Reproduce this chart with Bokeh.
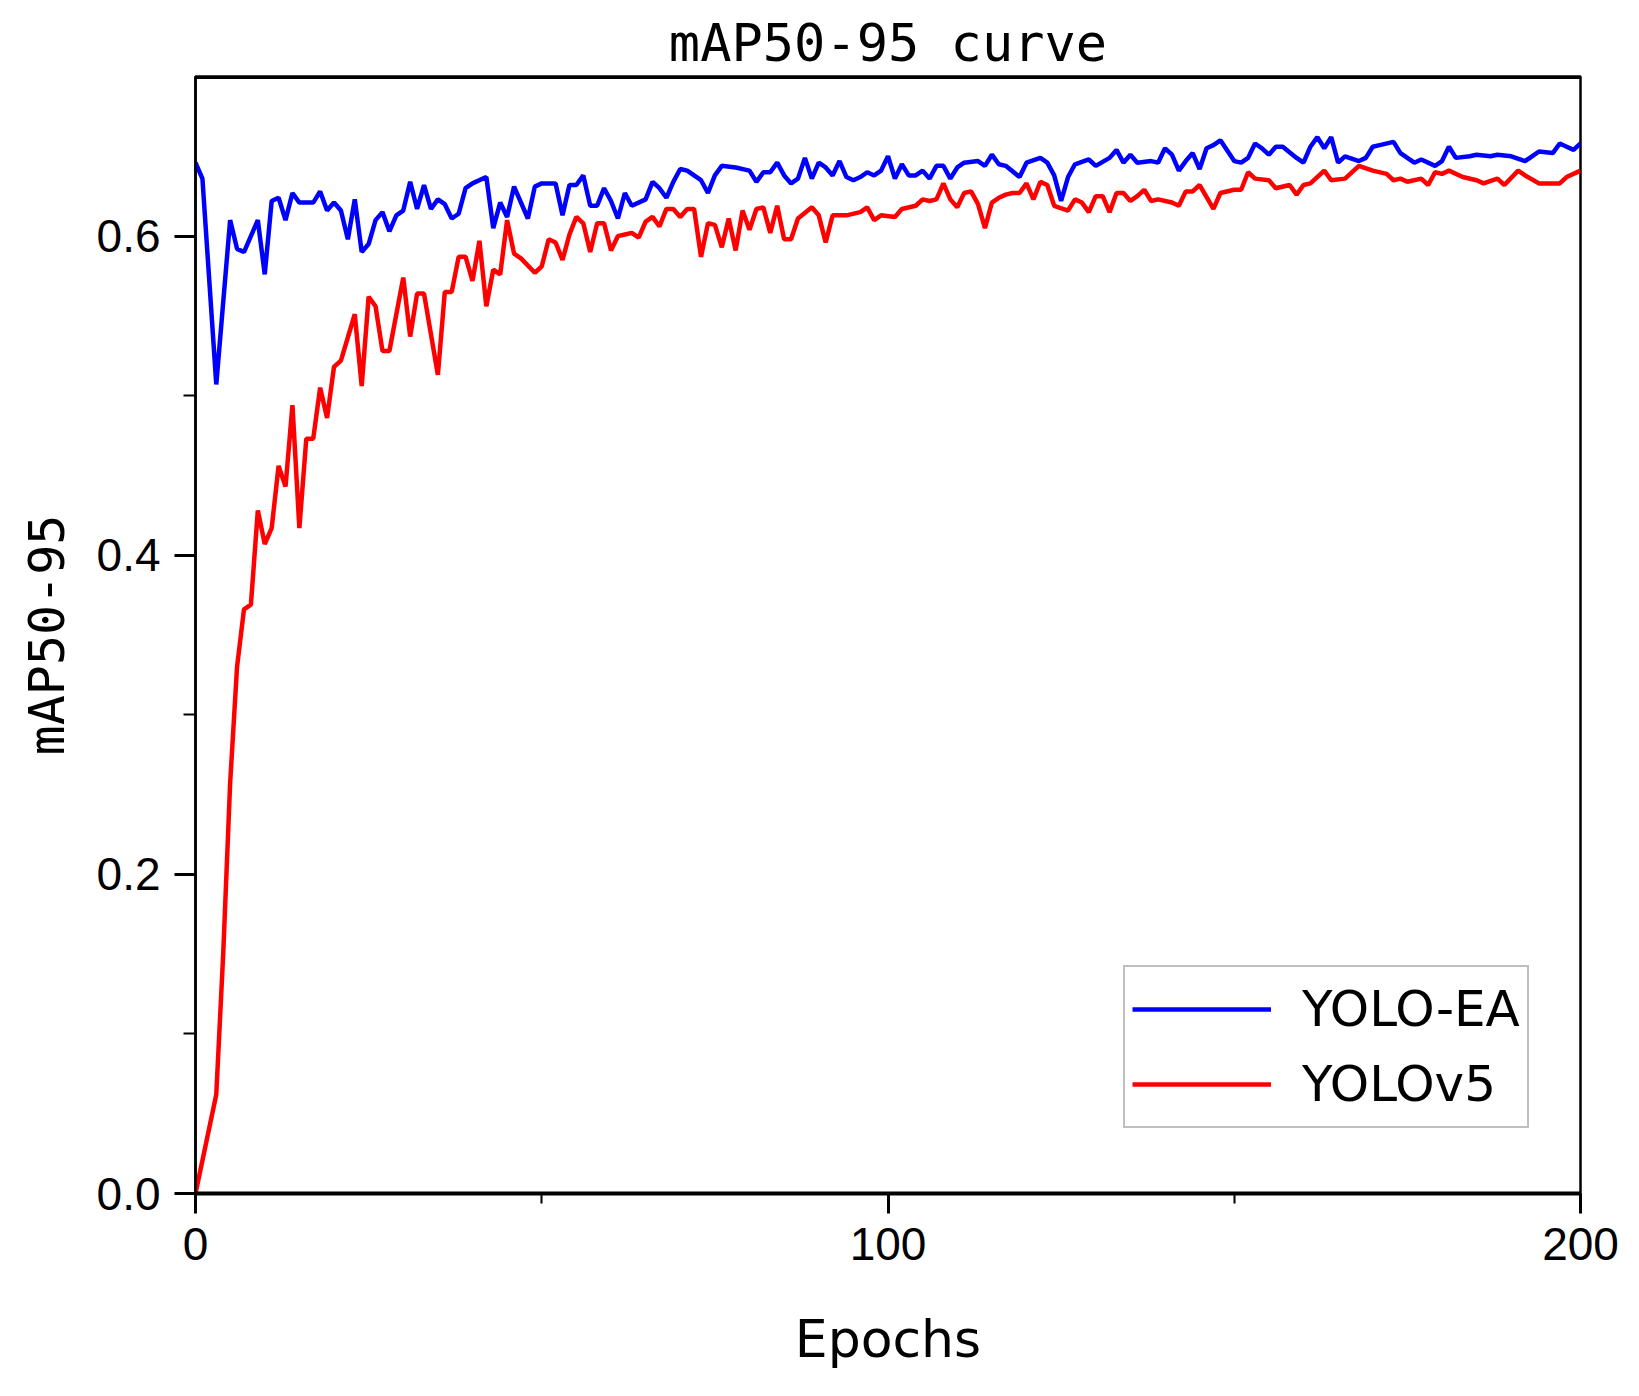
from bokeh.plotting import figure
from bokeh.models import (FixedTicker, PrintfTickFormatter, Legend, LegendItem,
                          Span, Range1d)
from bokeh.embed import file_html
from bokeh.resources import INLINE

# ---------------- data ----------------
blue_epochs = [0, 1, 3, 5, 6, 7, 9, 10, 11, 12,
               13, 14, 15, 17, 18, 19, 20, 21, 22, 23,
               24, 25, 26, 27, 28, 29, 30, 31, 32, 33,
               34, 35, 36, 37, 38, 39, 40, 42, 43, 44,
               45, 46, 48, 49, 50, 52, 53, 54, 55, 56,
               57, 58, 59, 60, 61, 62, 63, 65, 66, 67,
               68, 69, 70, 71, 73, 74, 75, 76, 78, 80,
               81, 82, 83, 84, 85, 86, 87, 88, 89, 90,
               91, 92, 93, 94, 95, 96, 97, 98, 99, 100,
               101, 102, 103, 104, 105, 106, 107, 108, 109, 110,
               111, 113, 114, 115, 116, 117, 119, 120, 122, 123,
               124, 125, 126, 127, 129, 130, 132, 133, 134, 135,
               136, 138, 139, 140, 141, 142, 143, 144, 145, 146,
               147, 148, 150, 151, 152, 153, 154, 155, 156, 157,
               159, 160, 161, 162, 163, 164, 165, 166, 168, 169,
               170, 171, 173, 174, 175, 176, 177, 179, 180, 181,
               182, 184, 185, 187, 188, 190, 192, 193, 194, 196,
               197, 198, 199, 200]
blue_vals = [0.646, 0.636, 0.507, 0.610, 0.592, 0.590, 0.610, 0.576, 0.622, 0.624,
             0.610, 0.627, 0.621, 0.621, 0.628, 0.616, 0.621, 0.616, 0.598, 0.623,
             0.590, 0.595, 0.610, 0.615, 0.603, 0.613, 0.616, 0.634, 0.617, 0.632,
             0.617, 0.623, 0.620, 0.611, 0.614, 0.630, 0.633, 0.637, 0.605, 0.621,
             0.612, 0.631, 0.611, 0.631, 0.633, 0.633, 0.613, 0.632, 0.632, 0.638,
             0.619, 0.619, 0.630, 0.622, 0.611, 0.627, 0.619, 0.623, 0.634, 0.630,
             0.624, 0.634, 0.642, 0.641, 0.635, 0.627, 0.638, 0.644, 0.643, 0.641,
             0.634, 0.640, 0.640, 0.646, 0.638, 0.633, 0.636, 0.649, 0.636, 0.646,
             0.643, 0.638, 0.647, 0.637, 0.635, 0.637, 0.640, 0.638, 0.641, 0.650,
             0.636, 0.645, 0.638, 0.638, 0.641, 0.636, 0.644, 0.644, 0.636, 0.643,
             0.646, 0.647, 0.644, 0.651, 0.645, 0.644, 0.637, 0.646, 0.649, 0.646,
             0.638, 0.622, 0.637, 0.645, 0.648, 0.644, 0.649, 0.654, 0.646, 0.651,
             0.646, 0.647, 0.646, 0.655, 0.651, 0.641, 0.647, 0.652, 0.642, 0.655,
             0.657, 0.660, 0.647, 0.646, 0.649, 0.658, 0.655, 0.651, 0.656, 0.656,
             0.649, 0.646, 0.656, 0.662, 0.655, 0.662, 0.646, 0.650, 0.647, 0.649,
             0.656, 0.657, 0.659, 0.652, 0.649, 0.646, 0.648, 0.644, 0.647, 0.656,
             0.649, 0.650, 0.651, 0.650, 0.651, 0.650, 0.647, 0.650, 0.653, 0.652,
             0.658, 0.656, 0.654, 0.658]

red_epochs = [0, 3, 4, 5, 6, 7, 8, 9, 10, 11,
              12, 13, 14, 15, 16, 17, 18, 19, 20, 21,
              23, 24, 25, 26, 27, 28, 30, 31, 32, 33,
              35, 36, 37, 38, 39, 40, 41, 42, 43, 44,
              45, 46, 47, 49, 50, 51, 52, 53, 54, 55,
              56, 57, 58, 59, 60, 61, 62, 63, 64, 65,
              66, 67, 68, 69, 70, 71, 72, 73, 74, 75,
              76, 77, 78, 79, 80, 81, 82, 83, 84, 85,
              86, 87, 89, 90, 91, 92, 94, 96, 97, 98,
              99, 101, 102, 104, 105, 106, 107, 108, 109, 110,
              111, 112, 113, 114, 115, 116, 117, 118, 119, 120,
              121, 122, 123, 124, 126, 127, 128, 129, 130, 131,
              132, 133, 134, 135, 136, 137, 138, 139, 141, 142,
              143, 144, 145, 147, 148, 150, 151, 152, 153, 155,
              156, 158, 159, 160, 161, 163, 164, 166, 168, 170,
              172, 173, 174, 175, 177, 178, 179, 180, 181, 183,
              185, 186, 188, 189, 191, 192, 194, 195, 197, 198,
              200]
red_vals = [0.000, 0.062, 0.150, 0.257, 0.330, 0.366, 0.369, 0.428, 0.407, 0.417,
            0.456, 0.443, 0.494, 0.417, 0.473, 0.473, 0.505, 0.486, 0.518, 0.522,
            0.551, 0.506, 0.562, 0.556, 0.528, 0.528, 0.574, 0.537, 0.564, 0.564,
            0.513, 0.565, 0.565, 0.587, 0.587, 0.572, 0.597, 0.556, 0.579, 0.576,
            0.610, 0.589, 0.586, 0.577, 0.581, 0.598, 0.596, 0.585, 0.601, 0.612,
            0.608, 0.590, 0.608, 0.608, 0.591, 0.600, 0.601, 0.602, 0.599, 0.609,
            0.612, 0.606, 0.617, 0.617, 0.612, 0.617, 0.617, 0.587, 0.608, 0.607,
            0.593, 0.611, 0.591, 0.616, 0.604, 0.617, 0.618, 0.602, 0.619, 0.598,
            0.598, 0.611, 0.618, 0.613, 0.596, 0.613, 0.613, 0.615, 0.618, 0.610,
            0.613, 0.612, 0.617, 0.619, 0.623, 0.622, 0.623, 0.633, 0.623, 0.618,
            0.627, 0.628, 0.620, 0.605, 0.621, 0.624, 0.626, 0.627, 0.627, 0.633,
            0.623, 0.634, 0.632, 0.619, 0.616, 0.623, 0.621, 0.615, 0.625, 0.625,
            0.615, 0.627, 0.627, 0.622, 0.625, 0.629, 0.622, 0.623, 0.621, 0.619,
            0.628, 0.628, 0.632, 0.617, 0.627, 0.629, 0.629, 0.640, 0.636, 0.635,
            0.630, 0.632, 0.626, 0.632, 0.633, 0.641, 0.635, 0.636, 0.644, 0.641,
            0.639, 0.635, 0.636, 0.634, 0.636, 0.632, 0.640, 0.639, 0.641, 0.637,
            0.635, 0.633, 0.636, 0.632, 0.641, 0.638, 0.633, 0.633, 0.633, 0.637,
            0.641]

series_labels = ["YOLO-EA", "YOLOv5"]
x_ticks = [0, 100, 200]
x_minor = [50, 150]
y_ticks = [0.0, 0.2, 0.4, 0.6]
y_minor = [0.1, 0.3, 0.5]

# ---------------- figure ----------------
p = figure(frame_width=1385, frame_height=1117,
           x_range=Range1d(0, 200), y_range=Range1d(0, 0.7),
           output_backend="svg", toolbar_location=None,
           min_border_left=195, min_border_top=76,
           min_border_right=45, min_border_bottom=190,
           background_fill_color="white", border_fill_color="white")

p.title.text = "mAP50-95 curve"
p.title.align = "center"
p.title.text_font = "DejaVu Sans Mono"
p.title.text_font_size = "52px"
p.title.text_font_style = "normal"
p.title.text_color = "black"
p.title.standoff = 7

p.xgrid.visible = False
p.ygrid.visible = False
p.outline_line_color = "black"
p.outline_line_width = 2.5
p.outline_line_alpha = 1.0

# x axis
xa = p.xaxis[0]
xa.ticker = FixedTicker(ticks=x_ticks, minor_ticks=x_minor)
xa.axis_line_width = 4
xa.axis_line_color = "black"
xa.major_tick_in = 0
xa.major_tick_out = 20
xa.minor_tick_in = 0
xa.minor_tick_out = 10
xa.major_tick_line_width = 3
xa.minor_tick_line_width = 2
xa.major_label_text_font = "Liberation Sans"
xa.major_label_text_font_size = "46px"
xa.major_label_text_color = "black"
xa.major_label_standoff = 14
xa.axis_label = "Epochs"
xa.axis_label_text_font = "DejaVu Sans"
xa.axis_label_text_font_size = "52px"
xa.axis_label_text_font_style = "normal"
xa.axis_label_text_color = "black"
xa.axis_label_standoff = 46

# y axis
ya = p.yaxis[0]
ya.ticker = FixedTicker(ticks=y_ticks, minor_ticks=y_minor)
ya.formatter = PrintfTickFormatter(format="%.1f")
ya.axis_line_width = 2.5
ya.axis_line_color = "black"
ya.major_tick_in = 0
ya.major_tick_out = 21
ya.minor_tick_in = 0
ya.minor_tick_out = 12
ya.major_tick_line_width = 3
ya.minor_tick_line_width = 2
ya.major_label_text_font = "Liberation Sans"
ya.major_label_text_font_size = "46px"
ya.major_label_text_color = "black"
ya.major_label_standoff = 14
ya.axis_label = "mAP50-95"
ya.axis_label_text_font = "DejaVu Sans Mono"
ya.axis_label_text_font_size = "50px"
ya.axis_label_text_font_style = "normal"
ya.axis_label_text_color = "black"
ya.axis_label_standoff = 18

# thick top border
p.add_layout(Span(location=0.7, dimension="width", line_color="black", line_width=5))

rb = p.line(blue_epochs, blue_vals, line_color="#0000ff", line_width=4.5)
rr = p.line(red_epochs, red_vals, line_color="#ff0000", line_width=4.5)

legend = Legend(items=[LegendItem(label=series_labels[0], renderers=[rb]),
                       LegendItem(label=series_labels[1], renderers=[rr])],
                location=(928, 65), margin=0, padding=7, spacing=5,
                glyph_width=139, glyph_height=70, label_height=70,
                label_standoff=31,
                label_text_font="DejaVu Sans", label_text_font_size="50px",
                label_text_color="black",
                border_line_color="#808080", border_line_width=2,
                background_fill_color="white", background_fill_alpha=1.0)
p.add_layout(legend)

open("out.html", "w").write(file_html(p, INLINE))
